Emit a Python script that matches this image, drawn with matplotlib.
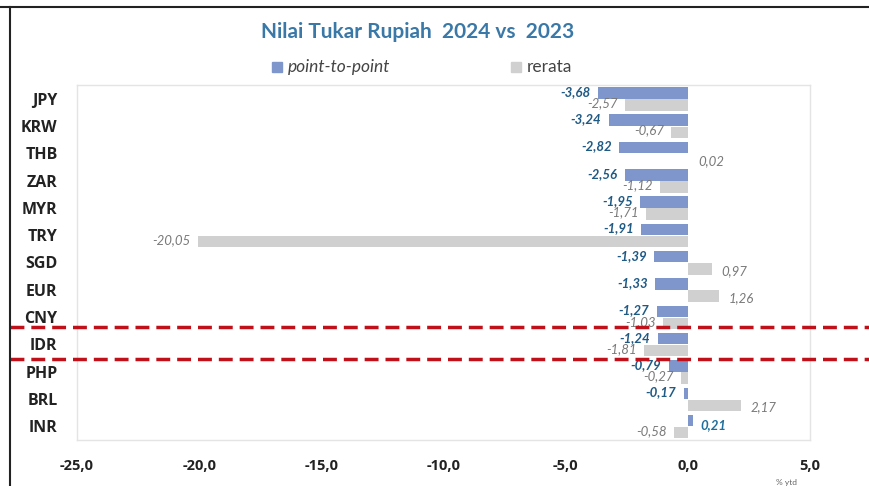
import matplotlib
matplotlib.use("Agg")
import matplotlib.pyplot as plt
import numpy as np

plt.rcParams["font.family"] = ["Lato", "DejaVu Sans"]

# Data
currencies = ["JPY", "KRW", "THB", "ZAR", "MYR", "TRY", "SGD", "EUR", "CNY", "IDR", "PHP", "BRL", "INR"]
point_to_point = [-3.68, -3.24, -2.82, -2.56, -1.95, -1.91, -1.39, -1.33, -1.27, -1.24, -0.79, -0.17, 0.21]
rerata = [-2.57, -0.67, 0.02, -1.12, -1.71, -20.05, 0.97, 1.26, -1.03, -1.81, -0.27, 2.17, -0.58]
xticks = [-25.0, -20.0, -15.0, -10.0, -5.0, 0.0, 5.0]

blue = "#7f96cc"
gray = "#d0d0d0"

fig = plt.figure(figsize=(8.7, 4.86), dpi=100)
ax = fig.add_axes([77 / 870, 1 - 440 / 486, (810 - 77) / 870, (440 - 85) / 486])

y = np.arange(len(currencies))
h = 0.42
ax.barh(y - 0.21, point_to_point, height=h, color=blue)
ax.barh(y + 0.23, rerata, height=h, color=gray)


def fmt(v):
    return f"{v:.2f}".replace(".", ",")


for i, (p, r) in enumerate(zip(point_to_point, rerata)):
    if p < 0:
        ax.text(p - 0.3, i - 0.25, fmt(p), ha="right", va="center", fontsize=9.5,
                style="italic", fontweight="bold", color="#1f5a85")
    else:
        ax.text(p + 0.3, i - 0.05, fmt(p), ha="left", va="center", fontsize=9.5,
                style="italic", fontweight="bold", color="#1f6e9c")
    if r < 0:
        ax.text(r - 0.3, i + 0.17, fmt(r), ha="right", va="center", fontsize=9.5,
                style="italic", color="#7a7a7a")
    else:
        ax.text(r + 0.4, i + 0.3, fmt(r), ha="left", va="center", fontsize=9.5,
                style="italic", color="#7a7a7a")

ax.set_xlim(-25, 5)
ax.set_ylim(len(currencies) - 0.5, -0.5)
ax.set_yticks(y)
ax.set_yticklabels(currencies, fontsize=11.5, fontweight="bold", color="#222222",
                   family=["Open Sans", "DejaVu Sans"])
ax.set_xticks(xticks)
ax.set_xticklabels([f"{t:.1f}".replace(".", ",") for t in xticks], fontsize=10.5, fontweight="bold",
                   color="#222222", family=["Open Sans", "DejaVu Sans"])
ax.tick_params(axis="x", length=0, pad=14)
ax.tick_params(axis="y", length=0, pad=14)
for s in ax.spines.values():
    s.set_color("#e4e4e4")
    s.set_linewidth(1)

# title and legend
fig.text(418 / 870, 1 - 32 / 486, "Nilai Tukar Rupiah  2024 vs  2023", ha="center", va="center",
         fontsize=15, fontweight="bold", color="#3a78a8")
fig.patches.append(plt.Rectangle((272 / 870, 1 - 72 / 486), 10 / 870, 10 / 486,
                                 transform=fig.transFigure, color=blue))
fig.text(288 / 870, 1 - 67 / 486, "point-to-point", ha="left", va="center", fontsize=12.5,
         style="italic", color="#444444")
fig.patches.append(plt.Rectangle((511 / 870, 1 - 72 / 486), 10 / 870, 10 / 486,
                                 transform=fig.transFigure, color=gray))
fig.text(527 / 870, 1 - 67 / 486, "rerata", ha="left", va="center", fontsize=12.5, color="#444444")
fig.text(787 / 870, 1 - 482 / 486, "% ytd", ha="center", va="center", fontsize=6, color="#666666")

# red dashed highlight lines around IDR
for yy in [327, 359]:
    fig.add_artist(plt.Line2D([10 / 870, 1], [1 - yy / 486] * 2, transform=fig.transFigure,
                              color="#c0101a", lw=2.5, ls=(0, (4, 2))))

# screenshot frame
fig.add_artist(plt.Line2D([0, 1], [1 - 7 / 486] * 2, transform=fig.transFigure, color="#222222", lw=1.5))
fig.add_artist(plt.Line2D([10 / 870] * 2, [0, 1 - 7 / 486], transform=fig.transFigure, color="#222222", lw=1.5))

fig.savefig("out.png", dpi=100)
